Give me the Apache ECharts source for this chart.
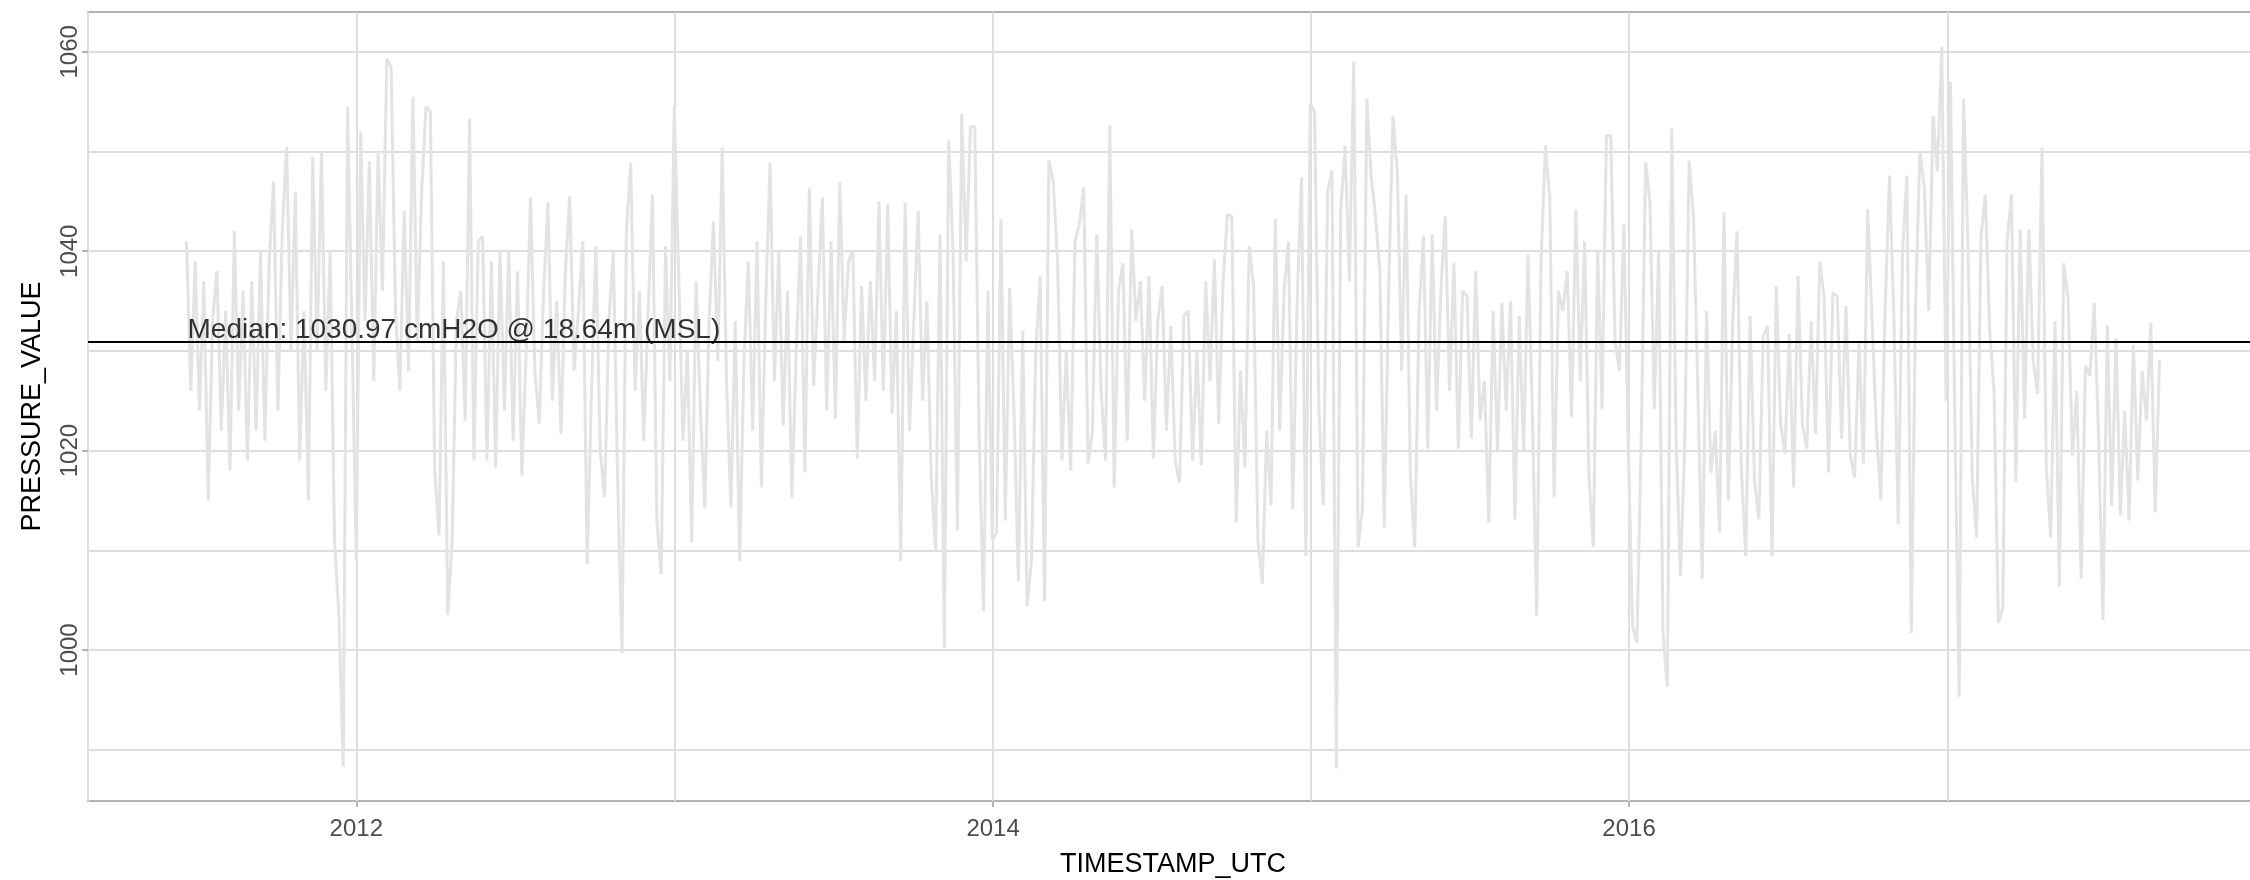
<!DOCTYPE html>
<html>
<head>
<meta charset="utf-8">
<title>PRESSURE_VALUE</title>
<script src="https://cdn.jsdelivr.net/npm/echarts@6/dist/echarts.min.js"></script>
<style>
  html, body { margin: 0; padding: 0; background: #ffffff; }
  #myChart { width: 2250px; height: 880px; }
</style>
</head>
<body>
<div id="myChart"></div>
<script>
// one reading every 5 days, starting at startDate
var startDate = '2011-06-20'
var stepDays = 5

// 2011-06-20 .. 2012-06-29
var pressureSeg1 = [
  1041, 1026, 1039, 1024, 1037, 1015, 1033, 1038, 1022, 1034,
  1018, 1042, 1024, 1036, 1019, 1037, 1022, 1040, 1021, 1039,
  1047, 1024, 1042, 1050.5, 1030, 1046, 1019, 1034, 1015, 1049.5,
  1030, 1050, 1026, 1040, 1011, 1003.5, 988.3, 1054.5, 1032, 1009,
  1052, 1033, 1049, 1027, 1050, 1036, 1059.3, 1058.5, 1034, 1026,
  1044, 1028, 1055.5, 1031, 1046, 1054.5, 1054, 1018, 1011.5, 1039,
  1003.5, 1011, 1033, 1036, 1023, 1053.3, 1019, 1041, 1041.5, 1019,
  1039, 1018.3, 1040, 1024, 1040, 1021
]
// 2012-07-04 .. 2013-07-19
var pressureSeg2 = [
  1038, 1017.5, 1030, 1045.4, 1028, 1022.7, 1036, 1044.9, 1025, 1035,
  1021.7, 1038, 1045.5, 1028, 1034, 1041, 1008.6, 1026, 1040.5, 1020,
  1015.3, 1033, 1040, 1017, 999.7, 1042, 1048.9, 1026, 1036, 1021,
  1034, 1045.7, 1013, 1007.6, 1040.5, 1027, 1054.6, 1038, 1021, 1030,
  1010.8, 1037, 1024, 1014.3, 1033, 1043, 1029, 1050.4, 1027, 1014.3,
  1033, 1008.9, 1029, 1039, 1022, 1041, 1016.3, 1035, 1048.9, 1027,
  1040, 1022.5, 1036, 1015.3, 1030, 1041.5, 1017.8, 1046.4, 1026.5, 1036,
  1045.4, 1024, 1041, 1023.2, 1046.9, 1031, 1039
]
// 2013-07-24 .. 2014-08-08
var pressureSeg3 = [
  1040, 1019.2, 1036.5, 1025, 1037, 1027, 1045, 1026, 1044.7, 1023.7,
  1034, 1008.9, 1044.9, 1022, 1033, 1044, 1025, 1035, 1017.3, 1010,
  1041.7, 1000.2, 1051.1, 1040, 1012, 1053.8, 1039, 1052.5, 1052.5, 1021.2,
  1003.9, 1036, 1011, 1011.8, 1043.2, 1013, 1036.3, 1024, 1006.9, 1032,
  1004.4, 1009, 1030, 1037.5, 1004.9, 1049.1, 1047, 1039, 1019, 1030,
  1018, 1041, 1042.7, 1046.4, 1018.7, 1022, 1041.7, 1026, 1019, 1052.6,
  1016.3, 1036, 1038.8, 1021, 1042.2, 1033, 1037, 1025, 1037.5, 1019.2,
  1033, 1036.5, 1022, 1032.5, 1019, 1016.8, 1033.5
]
// 2014-08-13 .. 2015-08-28
var pressureSeg4 = [
  1034, 1019, 1030, 1018.5, 1037, 1027, 1039.2, 1022.7, 1037, 1043.7,
  1043.5, 1012.8, 1028, 1018.3, 1040.5, 1036.5, 1011, 1006.6, 1022, 1014.5,
  1043.2, 1022, 1036, 1041, 1014.1, 1035, 1047.4, 1009.4, 1054.8, 1054,
  1024, 1014.5, 1046, 1048.1, 988.1, 1044, 1050.6, 1037, 1059, 1010.3,
  1014.1, 1055.3, 1047.5, 1043.5, 1038, 1012.3, 1036, 1053.6, 1047.9, 1028,
  1045.7, 1017.5, 1010.3, 1034, 1041.5, 1020.2, 1041.7, 1024, 1036, 1043.5,
  1026, 1038.8, 1020.2, 1036, 1035.5, 1021.2, 1038, 1023, 1027, 1012.8,
  1034, 1020, 1034.8, 1024, 1035, 1013.1, 1033.5
]
// 2015-09-02 .. 2016-09-16
var pressureSeg5 = [
  1020, 1039.7, 1024, 1003.4, 1039, 1050.6, 1045.4, 1015.3, 1036, 1034,
  1038, 1023.4, 1044.2, 1027, 1041, 1017.5, 1010.3, 1040.2, 1024.2, 1051.6,
  1051.6, 1031, 1028, 1042.7, 1021, 1002.4, 1000.7, 1021.2, 1048.9, 1044.9,
  1024.2, 1040, 1001.7, 996.3, 1052.3, 1021.2, 1007.4, 1021, 1049.1, 1043.4,
  1026, 1007.1, 1034, 1017.8, 1022, 1011.8, 1043.9, 1015, 1033, 1042,
  1018, 1009.4, 1033.5, 1017, 1013.1, 1031.5, 1032.5, 1009.4, 1036.5, 1022.7,
  1019.7, 1031.7, 1016.3, 1037.5, 1022.7, 1020.2, 1033, 1021.7, 1039, 1035.3,
  1017.8, 1035.8, 1035.5, 1021.2, 1034.5, 1019.5, 1017.3
]
// 2016-09-21 .. 2017-09-01
var pressureSeg6 = [
  1031, 1018.7, 1044.2, 1033, 1022, 1015, 1034.3, 1047.6, 1033.5, 1012.6,
  1040, 1047.6, 1001.7, 1035, 1050.1, 1046.4, 1034, 1053.6, 1048, 1060.5,
  1025, 1057, 1023, 995.3, 1055.3, 1041, 1017.3, 1011.3, 1041.5, 1045.7,
  1032, 1026, 1002.7, 1004.2, 1041, 1045.7, 1016.8, 1042.2, 1023.2, 1042.2,
  1029, 1025.7, 1050.4, 1018.5, 1011.3, 1033, 1006.4, 1038.8, 1035.3, 1019.5,
  1026, 1007.1, 1028.5, 1027.5, 1034.8, 1021.5, 1003, 1032.6, 1014.5, 1031.3,
  1013.5, 1024, 1013, 1030.6, 1017, 1028, 1023, 1032.8, 1013.8, 1029.1
]

var xRange = ['2011-02-27', '2017-12-23']
var yRange = [984.85, 1064]
var xLabelYears = ['2012-01-01', '2014-01-01', '2016-01-01']
var yLabelValues = [1000, 1020, 1040, 1060]
var yMinorValues = [990, 1010, 1030, 1050]

var medianValue = 1030.97
var medianText = 'Median: 1030.97 cmH2O @ 18.64m (MSL)'
var medianTextAt = ['2012-04-22', 1032.1]

var dayMs = 86400000
var toTime = function (s) { return new Date(s).getTime() }
var t0 = toTime(startDate)
var pressure = [].concat(pressureSeg1, pressureSeg2, pressureSeg3, pressureSeg4, pressureSeg5, pressureSeg6)
var points = pressure.map(function (v, i) { return [t0 + i * stepDays * dayMs, v] })

var font = 'Liberation Sans, Arial, sans-serif'
var myChart = echarts.init(document.getElementById('myChart'))
myChart.setOption({
  animation: false,
  useUTC: true,
  backgroundColor: '#ffffff',
  textStyle: { fontFamily: font },
  grid: {
    left: 88, right: -8, top: 12, bottom: 79,
    containLabel: false,
    outerBoundsMode: 'none',
    show: true, borderColor: '#B3B3B3', borderWidth: 2, backgroundColor: '#ffffff'
  },
  xAxis: [
    {
      // time axis: one grid line per year
      type: 'time',
      min: toTime(xRange[0]),
      max: toTime(xRange[1]),
      splitNumber: 7,
      position: 'bottom',
      axisLine: { show: false },
      axisTick: { show: false },
      axisLabel: { show: false },
      splitLine: { show: true, lineStyle: { color: '#DEDEDE', width: 2 } }
    },
    {
      // same range, only for the labelled ticks
      type: 'value',
      min: toTime(xRange[0]),
      max: toTime(xRange[1]),
      position: 'bottom',
      name: 'TIMESTAMP_UTC',
      nameLocation: 'middle',
      nameGap: 50,
      nameTextStyle: { color: '#000000', fontSize: 27, fontFamily: font },
      axisLine: { show: false },
      axisTick: {
        show: true, length: 6, customValues: xLabelYears.map(toTime),
        lineStyle: { color: '#B3B3B3', width: 2 }
      },
      axisLabel: {
        color: '#4D4D4D', fontSize: 24, margin: 16, fontFamily: font,
        customValues: xLabelYears.map(toTime),
        formatter: function (v) { return String(new Date(v).getUTCFullYear()) }
      },
      splitLine: { show: false }
    }
  ],
  yAxis: {
    type: 'value',
    min: yRange[0],
    max: yRange[1],
    name: 'PRESSURE_VALUE',
    nameLocation: 'middle',
    nameGap: 42,
    nameTextStyle: { color: '#000000', fontSize: 27, fontFamily: font },
    axisLine: { show: false },
    axisTick: {
      show: true, length: 6, customValues: yLabelValues,
      lineStyle: { color: '#B3B3B3', width: 2 }
    },
    axisLabel: {
      color: '#4D4D4D', fontSize: 24, margin: 6, rotate: 90, fontFamily: font,
      customValues: yLabelValues,
      formatter: function (v) { return String(v) }
    },
    splitLine: { show: true, lineStyle: { color: '#DEDEDE', width: 2 } }
  },
  series: [
    {
      // minor grid lines between the labelled ones
      type: 'line',
      data: [],
      silent: true,
      markLine: {
        z: 1,
        silent: true,
        symbol: 'none',
        label: { show: false },
        lineStyle: { color: '#DEDEDE', width: 2, type: 'solid' },
        data: yMinorValues.map(function (v) { return { yAxis: v } })
      }
    },
    {
      name: 'PRESSURE_VALUE',
      type: 'line',
      data: points,
      showSymbol: false,
      symbol: 'none',
      z: 2,
      lineStyle: { color: '#E3E3E3', width: 3 },
      markLine: {
        z: 3,
        silent: true,
        symbol: 'none',
        label: { show: false },
        lineStyle: { color: '#000000', width: 2, type: 'solid' },
        data: [{ yAxis: medianValue }]
      }
    },
    {
      type: 'scatter',
      data: [[toTime(medianTextAt[0]), medianTextAt[1]]],
      symbolSize: 1,
      silent: true,
      z: 4,
      itemStyle: { color: 'rgba(0,0,0,0)' },
      label: {
        show: true,
        position: 'inside',
        formatter: medianText,
        color: '#000000',
        fontSize: 28,
        fontFamily: font
      }
    }
  ]
})
</script>
</body>
</html>
